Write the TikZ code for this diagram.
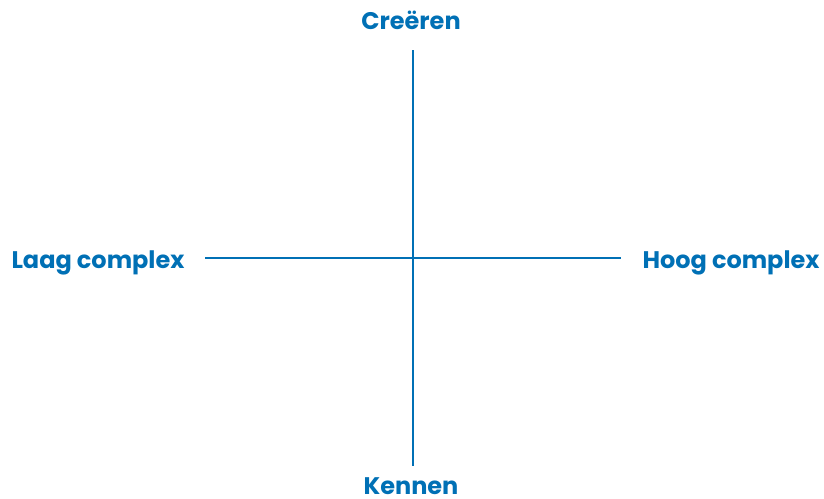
\documentclass[tikz,border=0pt]{standalone}
\usepackage{fontspec}
\setmainfont{Poppins}[BoldFont={* Bold}]
\definecolor{axisblue}{HTML}{0070B5}
\tikzset{
  axislabel/.style={text=axisblue, font=\fontsize{24}{28}\selectfont\bfseries, anchor=base, inner sep=0pt},
  axisline/.style={draw=axisblue, line width=2pt}
}
\begin{document}
\begin{tikzpicture}[x=1pt,y=-1pt]
  \useasboundingbox (0,0) rectangle (824,498);
  % axis ends
  \coordinate (top) at (413,50);
  \coordinate (bottom) at (413,466);
  \coordinate (left) at (205,258);
  \coordinate (right) at (621,258);
  % labels
  \node[axislabel] (creeren) at (411,29) {Creëren};
  \node[axislabel] (kennen) at (411,494) {Kennen};
  \node[axislabel] (laag) at (98,268) {Laag complex};
  \node[axislabel] (hoog) at (731,268) {Hoog complex};
  % axes
  \draw[axisline] (top) -- (bottom);
  \draw[axisline] (left) -- (right);
\end{tikzpicture}
\end{document}
